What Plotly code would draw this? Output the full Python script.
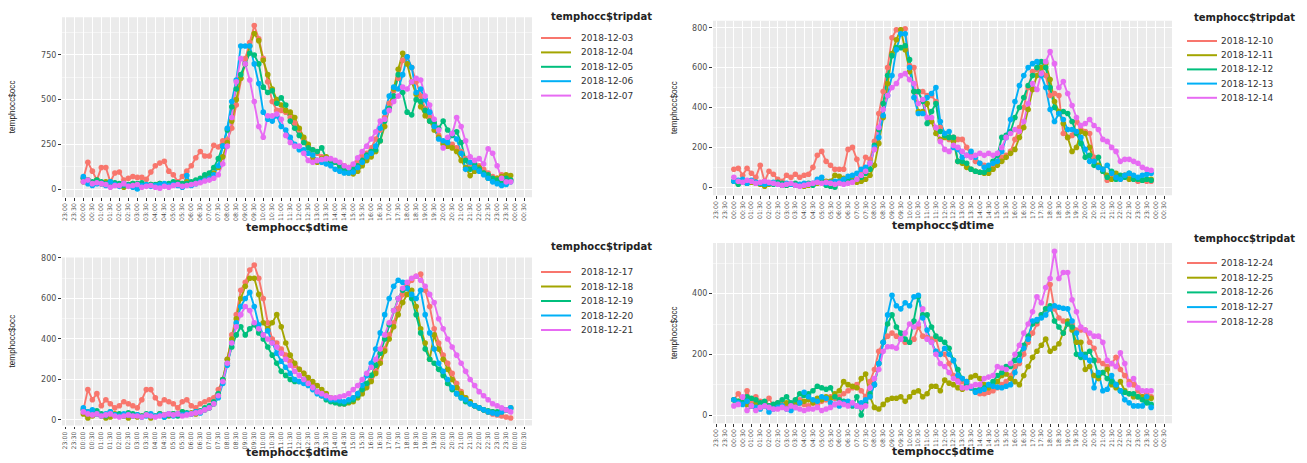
import pandas as pd
import plotly.graph_objects as go

# time slots (15-minute data)
slots = pd.date_range("2000-01-01 00:00", periods=96, freq="15min")

dates_p1 = ["2018-12-03", "2018-12-04", "2018-12-05", "2018-12-06", "2018-12-07"]
dates_p2 = ["2018-12-10", "2018-12-11", "2018-12-12", "2018-12-13", "2018-12-14"]
dates_p3 = ["2018-12-17", "2018-12-18", "2018-12-19", "2018-12-20", "2018-12-21"]
dates_p4 = ["2018-12-24", "2018-12-25", "2018-12-26", "2018-12-27", "2018-12-28"]

# ---------------- panel 1 ----------------
p1_a = [60,150,100,50, 120,120,40,90, 95,50,60,70, 65,65,55,95, 130,145,155,100, 80,40,70,100,
        130,175,210,185, 185,245,235,270, 275,340,470,620, 730,820,915,840, 730,600,490,440,
        440,430,400,370, 330,280,240,220, 200,180,170,160, 150,140,130,120, 130,150,180,200,
        230,280,330,400, 480,550,620,720, 740,680,600,520, 450,400,350,300, 260,240,250,230,
        210,170,140,120, 130,110,90,70, 60,80,70,50]
p1_b = [40,50,30,50, 30,40,20,30, 20,10,25,30, 20,15,20,25, 20,30,25,20, 30,35,30,40,
        35,40,50,60, 70,90,120,180, 260,380,500,620, 700,800,870,830, 720,640,560,500,
        470,440,430,400, 340,290,250,170, 150,170,180,160, 150,120,110,90, 85,100,130,160,
        180,210,270,350, 450,560,670,760, 700,600,530,460, 410,380,330,290, 250,240,230,210,
        160,120,75,100, 120,90,60,50, 60,70,80,75]
p1_c = [60,50,40,50, 40,30,40,35, 30,20,25,30, 30,35,20,25, 25,30,20,30, 40,35,30,30,
        40,50,60,80, 90,120,170,240, 330,460,560,640, 700,760,750,700, 570,540,550,480,
        510,470,380,340, 300,260,230,220, 210,230,170,150, 150,130,110,100, 110,130,160,190,
        210,220,270,380, 450,520,640,540, 430,415,500,490, 440,380,370,340, 380,330,300,320,
        260,160,110,140, 110,90,80,60, 50,40,60,50]
p1_d = [70,30,20,30, 30,20,40,25, 15,30,20,10, 0,20,25,15, 20,25,30,20, 25,20,10,75,
        20,30,40,50, 60,80,130,240, 340,490,610,800, 800,800,700,590, 430,390,380,410,
        350,330,290,250, 220,220,200,190, 160,150,140,130, 110,100,90,90, 95,120,150,180,
        200,240,340,430, 520,570,560,640, 740,680,540,560, 500,430,350,280, 270,260,310,280,
        200,110,150,120, 100,80,60,40, 30,20,25,40]
p1_e = [40,50,30,35, 30,25,10,20, 20,30,15,20, 25,10,15,20, 10,5,15,10, 20,25,15,20,
        25,30,35,45, 50,60,80,140, 240,400,600,730, 700,610,490,350, 290,410,410,420,
        390,300,260,240, 240,200,160,150, 160,165,170,170, 160,150,130,120, 140,175,210,240,
        280,320,380,390, 440,490,520,570, 560,600,620,610, 520,470,390,330, 230,290,310,400,
        350,270,180,160, 170,140,225,200, 130,60,40,40]

# ---------------- panel 2 ----------------
p2_a = [90,95,60,95, 70,50,110,30, 80,65,40,30, 60,50,65,50, 60,65,100,160, 180,130,110,90,
        90,90,190,200, 140,60,150,140, 230,370,480,600, 750,790,790,795, 610,600,480,480,
        460,460,430,300, 270,240,250,240, 240,200,160,130, 120,110,100,100, 130,150,160,180,
        240,300,400,500, 580,590,600,560, 460,470,460,270, 250,260,330,290, 280,270,150,100,
        80,35,60,50, 40,60,50,40, 30,35,30,30]
p2_b = [30,20,25,20, 25,20,15,5, 15,20,20,10, 10,15,10,10, 5,10,15,20, 25,30,30,60,
        55,45,40,55, 25,30,40,60, 110,220,350,520, 670,740,790,690, 580,480,380,380,
        420,330,270,240, 250,250,230,130, 120,100,90,80, 75,70,70,90, 110,130,150,170,
        190,250,300,390, 490,560,600,620, 540,430,380,320, 250,180,200,280, 270,200,130,110,
        90,60,40,70, 50,60,40,50, 40,35,40,40]
p2_c = [30,15,25,20, 30,25,20,15, 20,15,25,20, 10,15,20,10, 15,20,10,25, 30,10,5,0,
        20,30,40,30, 40,50,70,90, 210,290,420,560, 660,700,700,710, 640,480,480,430,
        320,380,420,280, 260,250,250,130, 130,120,90,80, 75,75,90,130, 160,250,260,280,
        350,400,450,510, 560,600,630,600, 500,400,370,380, 370,330,270,220, 150,160,110,150,
        80,50,80,40, 60,50,70,40, 40,35,40,35]
p2_d = [30,35,40,20, 35,25,20,15, 20,25,15,10, 20,15,10,15, 20,15,20,40, 50,20,25,30,
        30,40,55,60, 70,90,100,120, 200,250,360,460, 560,690,770,770, 600,450,370,370,
        450,470,500,330, 270,280,200,190, 150,160,180,150, 120,100,110,120, 130,180,250,340,
        430,510,560,600, 620,630,560,500, 390,330,370,340, 290,290,280,250, 190,130,130,100,
        90,110,70,50, 40,60,70,60, 50,60,65,70]
p2_e = [50,30,25,35, 30,20,25,30, 25,20,15,10, 15,20,10,5, 10,15,20,25, 20,25,20,15,
        20,15,20,25, 40,60,80,120, 190,300,390,460, 500,520,560,570, 540,520,420,440,
        350,350,300,230, 190,180,210,200, 180,160,150,160, 170,160,170,160, 170,200,250,270,
        290,280,330,420, 520,490,570,630, 680,620,500,530, 470,410,350,310, 320,340,310,290,
        240,230,200,180, 130,140,140,130, 120,100,90,85]

# ---------------- panel 3 ----------------
p3_a = [50,150,100,130, 70,100,80,60, 70,90,80,70, 60,100,150,150, 110,80,100,90, 80,60,90,100,
        70,60,80,90, 100,110,150,200, 300,420,520,640, 680,740,765,700, 600,480,400,380,
        350,320,290,270, 250,230,200,170, 140,120,110,100, 90,80,80,90, 110,130,150,170,
        200,240,290,350, 420,480,550,620, 660,690,710,720, 640,560,450,380, 320,280,230,180,
        140,110,90,70, 60,50,40,30, 25,20,15,10]
p3_b = [30,10,20,30, 20,10,15,30, 25,20,10,20, 15,20,25,10, 20,30,25,20, 30,25,40,30,
        35,30,40,50, 60,80,120,200, 300,400,500,600, 660,700,700,620, 480,450,480,520,
        460,380,320,280, 250,230,210,190, 170,150,130,110, 100,90,80,85, 90,110,130,160,
        190,230,280,340, 400,460,520,580, 620,640,560,450, 380,300,420,350, 300,250,200,160,
        130,110,90,70, 60,50,40,40, 35,40,50,60]
p3_c = [50,40,30,45, 30,20,40,25, 30,20,35,30, 25,20,30,20, 20,30,15,25, 30,20,40,35,
        30,40,45,60, 70,90,130,200, 280,360,420,460, 420,450,470,430, 400,360,320,280,
        240,220,200,190, 190,200,180,160, 140,120,100,90, 85,80,80,90, 100,120,150,180,
        220,270,330,400, 470,540,600,640, 650,600,520,430, 350,300,280,250, 220,180,150,130,
        110,90,80,70, 60,50,45,40, 40,45,50,55]
p3_d = [60,40,50,30, 20,30,40,25, 20,30,25,20, 25,15,20,30, 20,25,15,30, 20,30,25,30,
        30,40,35,50, 60,80,110,180, 270,380,480,560, 600,630,560,470, 420,440,380,330,
        290,260,230,200, 190,180,170,150, 130,120,110,100, 100,95,90,100, 110,130,170,220,
        280,350,430,520, 600,660,690,680, 650,620,600,640, 520,430,350,280, 240,200,160,130,
        110,100,80,70, 60,50,40,35, 30,40,50,60]
p3_e = [40,30,25,30, 20,25,30,20, 15,20,25,20, 20,15,25,20, 15,20,25,30, 25,30,20,25,
        30,35,40,50, 60,80,120,190, 280,380,460,520, 560,540,480,450, 420,400,380,360,
        330,300,270,240, 220,200,180,160, 140,130,120,110, 110,115,120,130, 150,170,200,230,
        260,300,350,420, 480,540,600,650, 680,700,710,690, 660,620,580,500, 450,400,360,320,
        280,240,200,170, 140,120,100,80, 70,60,50,40]

# ---------------- panel 4 ----------------
p4_a = [50,70,40,80, 40,60,45,30, 55,30,40,40, 25,30,40,50, 35,30,40,35, 45,50,60,55,
        60,70,80,90, 100,80,60,110, 150,210,240,260, 270,260,250,240, 240,250,290,260,
        255,250,250,200, 200,170,130,120, 110,100,90,80, 70,70,75,80, 90,100,110,130,
        160,170,200,240, 270,300,330,350, 430,350,320,310, 300,300,280,280, 280,240,220,180,
        170,160,170,190, 150,130,110,100, 80,60,70,60]
p4_b = [50,45,40,35, 30,35,30,40, 30,25,35,30, 40,30,35,40, 45,50,40,55, 50,60,55,70,
        80,110,100,95, 90,120,135,60, 25,20,35,50, 55,55,60,45, 60,75,80,60,
        70,95,95,80, 115,105,100,90, 85,110,125,130, 120,100,90,100, 110,130,135,120,
        110,100,130,160, 190,210,230,250, 210,220,235,270, 310,280,240,240, 150,160,130,120,
        140,150,100,90, 110,80,70,60, 60,60,55,55]
p4_c = [50,45,40,60, 55,50,40,45, 30,35,40,50, 60,40,50,70, 65,70,80,95, 90,85,90,60,
        50,45,40,30, 60,0,40,70, 100,170,240,300, 330,290,270,250, 240,310,390,330,
        330,290,260,250, 240,220,180,150, 120,100,90,80, 85,90,100,110, 130,140,160,160,
        180,200,230,260, 300,310,330,350, 360,310,290,270, 300,290,200,190, 200,210,180,130,
        140,120,110,100, 80,75,70,70, 60,50,40,35]
p4_d = [50,40,35,45, 30,25,20,30, 10,20,25,30, 20,15,25,40, 75,60,50,45, 60,55,40,35,
        30,40,45,35, 30,40,50,60, 100,170,240,330, 395,360,350,370, 360,390,395,320,
        280,240,210,200, 220,200,180,130, 120,110,90,75, 80,85,100,95, 92,90,95,100,
        140,180,220,250, 310,315,320,330, 350,360,355,352, 350,310,270,200, 190,180,90,140,
        80,85,130,100, 80,50,40,30, 30,30,60,25]
p4_e = [30,35,60,15, 30,15,25,30, 25,20,20,25, 20,30,25,20, 15,20,20,25, 15,20,25,35,
        40,35,30,40, 30,25,30,90, 120,150,210,225, 225,220,250,270, 300,290,300,350,
        250,240,200,170, 160,140,120,110, 90,90,95,100, 100,120,125,130, 160,155,150,170,
        200,230,270,300, 340,390,370,420, 450,540,450,470, 470,380,340,290, 280,270,260,260,
        240,180,170,160, 205,170,100,120, 90,80,80,80]

panels = [
    (dates_p1, [p1_a, p1_b, p1_c, p1_d, p1_e], 250),
    (dates_p2, [p2_a, p2_b, p2_c, p2_d, p2_e], 200),
    (dates_p3, [p3_a, p3_b, p3_c, p3_d, p3_e], 200),
    (dates_p4, [p4_a, p4_b, p4_c, p4_d, p4_e], 200),
]

colors = ["#F8766D", "#A3A500", "#00BF7D", "#00B0F6", "#E76BF3"]

# The page body has an 8px margin, so the figure is drawn 8px in from the window corner.
OFF = 8
W, H = 1307 - OFF, 463 - OFF


def px(x):
    return (x - OFF) / W


def py(y):
    return 1 - (y - OFF) / H


# window-pixel boxes of plotting panels: (x0, x1, ytop, ybottom)
boxes = [(62, 532, 17.3, 197.2), (713, 1172, 20.8, 195.2),
         (62, 532, 257.4, 425.6), (713, 1172, 243.0, 423.2)]
# legend layout: (key_x0, label_x, title_x, title_y, first_entry_y, step)
legends = [(541, 579, 549, 16, 38, 14.4), (1187, 1219, 1192, 17, 41, 14.2),
           (541, 579, 549, 246, 272, 14.5), (1187, 1219, 1192, 238, 263, 14.7)]
xtitle_y = [227, 225, 452, 451]
ytitle_x = [12, 674, 12, 674]

fig = go.Figure()

span = slots[-1] - slots[0]
xr = [slots[0] - span * 0.05, slots[-1] + span * 0.05]

grey_txt = "#4D4D4D"
for k, (dates, series, dt) in enumerate(panels):
    xa = "x" if k == 0 else f"x{k+1}"
    ya = "y" if k == 0 else f"y{k+1}"
    for d, s, c in zip(dates, series, colors):
        assert len(s) == 96, (d, len(s))
        fig.add_trace(go.Scatter(x=slots, y=s, mode="lines", name=d, showlegend=False,
                                 line=dict(color=c, width=1.9),
                                 xaxis=xa, yaxis=ya))
    for d, s, c in zip(dates, series, colors):
        fig.add_trace(go.Scatter(x=slots, y=s, mode="markers", name=d, showlegend=False,
                                 marker=dict(color=c, size=5.6),
                                 xaxis=xa, yaxis=ya))
    allv = [v for s in series for v in s]
    lo, hi = min(allv), max(allv)
    yr = [lo - 0.05 * (hi - lo), hi + 0.05 * (hi - lo)]
    x0, x1, yt, yb = boxes[k]
    xkey = "xaxis" if k == 0 else f"xaxis{k+1}"
    ykey = "yaxis" if k == 0 else f"yaxis{k+1}"
    fig.layout[xkey] = dict(
        domain=[px(x0), px(x1)], anchor=ya, type="date", range=xr,
        tick0="1999-12-31 23:00", dtick=1800000, tickformat="%H:%M",
        tickangle=-90, tickfont=dict(family="DejaVu Sans", size=6.2, color=grey_txt),
        ticks="outside", ticklen=2.5, tickcolor="#333333", tickwidth=0.8,
        showgrid=True, gridcolor="white", gridwidth=0.9,
        showline=False, zeroline=False, automargin=False)
    fig.layout[ykey] = dict(
        domain=[py(yb), py(yt)], anchor=xa, range=yr,
        dtick=dt, tick0=0,
        tickfont=dict(family="DejaVu Sans", size=8, color=grey_txt),
        ticks="outside", ticklen=3, tickcolor="#333333", tickwidth=0.8,
        showgrid=True, gridcolor="white", gridwidth=1.0,
        minor=dict(dtick=dt / 2, tick0=0, showgrid=True, gridcolor="#F5F5F5", gridwidth=0.6),
        showline=False, zeroline=False, automargin=False)
    # panel background
    fig.add_shape(type="rect", xref="paper", yref="paper",
                  x0=px(x0), x1=px(x1), y0=py(yb), y1=py(yt),
                  fillcolor="#EBEBEB", line=dict(width=0), layer="below")
    # axis titles
    fig.add_annotation(text="<b>temphocc$dtime</b>", xref="paper", yref="paper",
                       x=px((x0 + x1) / 2), y=py(xtitle_y[k]), showarrow=False,
                       xanchor="center", yanchor="middle",
                       font=dict(family="DejaVu Sans", size=10.8, color="#222222"))
    fig.add_annotation(text="temphocc$occ", xref="paper", yref="paper",
                       x=px(ytitle_x[k]), y=py((yt + yb) / 2), showarrow=False,
                       textangle=-90, xanchor="center", yanchor="middle",
                       font=dict(family="Liberation Sans", size=8.2, color="#222222"))
    # legend (title, line keys and labels)
    kx0, lx, tx, ty, ey, step = legends[k]
    fig.add_annotation(text="<b>temphocc$tripdat</b>", xref="paper", yref="paper",
                       x=px(tx), y=py(ty), showarrow=False, xanchor="left", yanchor="middle",
                       font=dict(family="DejaVu Sans", size=10, color="#222222"))
    for j, (d, c) in enumerate(zip(dates, colors)):
        yy = ey + j * step
        fig.add_shape(type="line", xref="paper", yref="paper",
                      x0=px(kx0), x1=px(kx0 + 30), y0=py(yy), y1=py(yy),
                      line=dict(color=c, width=2))
        fig.add_annotation(text=d, xref="paper", yref="paper",
                           x=px(lx), y=py(yy), showarrow=False, xanchor="left", yanchor="middle",
                           font=dict(family="DejaVu Sans", size=9, color="#333333"))

fig.update_layout(width=W, height=H, margin=dict(l=0, r=0, t=0, b=0, autoexpand=False),
                  paper_bgcolor="white", plot_bgcolor="rgba(0,0,0,0)", showlegend=False)

fig.write_html("out.html")
